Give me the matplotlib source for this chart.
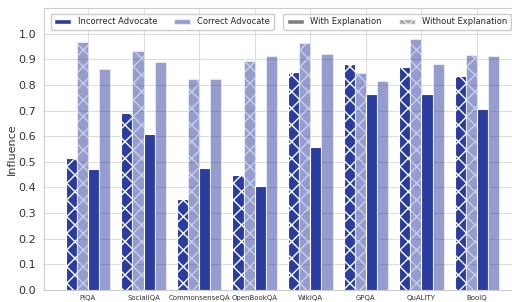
import numpy as np
import matplotlib
matplotlib.use("Agg")
import matplotlib.pyplot as plt
import seaborn as sns
from matplotlib.patches import Patch

datasets = ["PIQA", "SocialIQA", "CommonsenseQA", "OpenBookQA",
            "WikiQA", "GPQA", "QuALITY", "BoolQ"]

# influence values
incorrect_no_expl = [0.515, 0.691, 0.356, 0.449, 0.852, 0.882, 0.870, 0.835]
correct_no_expl = [0.969, 0.931, 0.825, 0.895, 0.962, 0.847, 0.981, 0.915]
incorrect_expl = [0.473, 0.607, 0.474, 0.406, 0.558, 0.763, 0.763, 0.707]
correct_expl = [0.861, 0.888, 0.822, 0.912, 0.920, 0.815, 0.883, 0.911]

sns.set_style("whitegrid")
plt.rcParams['hatch.linewidth'] = 1.0

dark = "#2a3d9e"

fig = plt.figure(figsize=(5.12, 3.02), dpi=100)
ax = fig.add_axes([44 / 512, 1 - 290 / 302, 477 / 512, 282 / 302])

x = np.arange(len(datasets))
w = 0.2
ax.bar(x - 1.5 * w, incorrect_no_expl, w, color=dark, edgecolor="white",
       hatch="xx", linewidth=0.8, zorder=2)
ax.bar(x - 0.5 * w, correct_no_expl, w, color=dark, alpha=0.5, edgecolor="white",
       hatch="xx", linewidth=0.8, zorder=2)
ax.bar(x + 0.5 * w, incorrect_expl, w, color=dark, edgecolor="white",
       linewidth=0.8, zorder=2)
ax.bar(x + 1.5 * w, correct_expl, w, color=dark, alpha=0.5, edgecolor="white",
       linewidth=0.8, zorder=2)

ax.set_xticks(x)
ax.set_xticklabels(datasets, fontsize=5, color="#333333")
ax.set_ylim(0, 1.1)
ax.set_yticks(np.arange(0, 1.01, 0.1))
ax.set_yticklabels([f"{v:.1f}" for v in np.arange(0, 1.01, 0.1)], fontsize=8,
                   color="#333333")
ax.set_xlim(-0.79, 7.79)
ax.set_ylabel("Influence", fontsize=8, color="#333333", labelpad=1)
ax.tick_params(axis="x", pad=0)
ax.tick_params(axis="y", pad=2)
ax.grid(color="#dddddd", linewidth=0.8)
for s in ax.spines.values():
    s.set_color("#cccccc")

h1 = [Patch(facecolor=dark, edgecolor="white"),
      Patch(facecolor=dark, alpha=0.5, edgecolor="white")]
leg1 = ax.legend(h1, ["Incorrect Advocate", "Correct Advocate"], ncol=2,
                 loc="upper left", bbox_to_anchor=(0.005, 0.995), fontsize=6,
                 handlelength=2.0, handleheight=0.5, borderpad=0.45,
                 columnspacing=2.0, framealpha=1)
ax.add_artist(leg1)
h2 = [Patch(facecolor="gray", edgecolor="white"),
      Patch(facecolor="gray", edgecolor="white", hatch="xx", alpha=0.7)]
ax.legend(h2, ["With Explanation", "Without Explanation"], ncol=2,
          loc="upper left", bbox_to_anchor=(0.493, 0.995), fontsize=6,
          handlelength=2.0, handleheight=0.5, borderpad=0.45,
          columnspacing=2.0, framealpha=1)

fig.savefig("out.png", dpi=100)
